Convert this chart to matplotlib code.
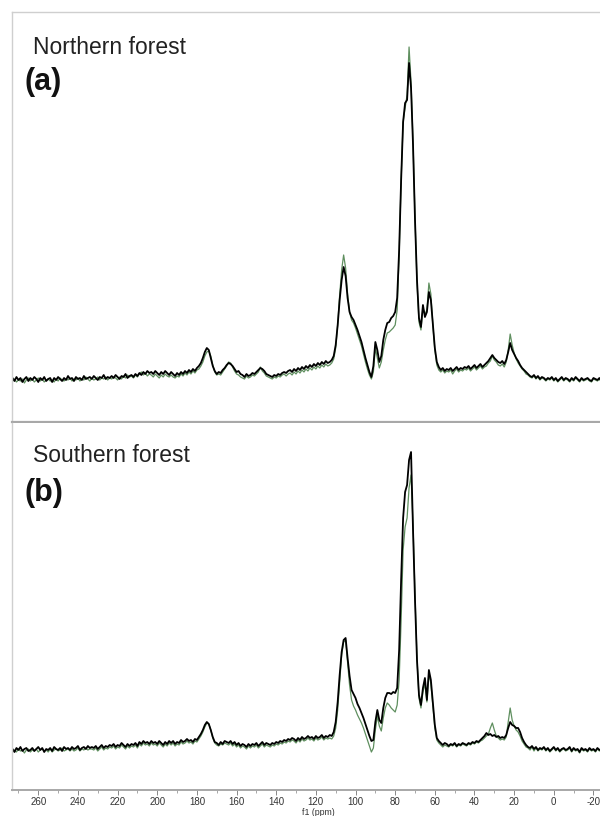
import numpy as np
import matplotlib
matplotlib.use("Agg")
import matplotlib.pyplot as plt
from matplotlib.ticker import MultipleLocator

# chemical shift grid (ppm), 273 -> -24 in 1 ppm steps
ppm = np.arange(273, -25, -1)

# ---- (a) Northern forest: intensity (arbitrary units) ----
north_black = [
    2, -1, 3, 0, 2, -2, 1, 3, -1, 2,
    0, 3, 1, -2, 2, 0, 3, -1, 1, 2,
    -2, 2, 0, 3, 1, -1, 2, 0, 4, 1,
    2, -1, 3, 1, 2, 0, 4, 1, 2, 3,
    1, 4, 2, 0, 3, 2, 5, 1, 3, 2,
    4, 2, 5, 3, 1, 4, 3, 6, 2, 4,
    5, 3, 6, 4, 7, 5, 8, 6, 9, 7,
    8, 6, 9, 7, 5, 8, 6, 9, 7, 5,
    8, 6, 4, 7, 5, 8, 6, 9, 7, 10,
    8, 11, 9, 12, 14, 17, 22, 28, 32, 30,
    22, 14, 9, 6, 8, 7, 10, 12, 15, 17,
    16, 14, 11, 8, 9, 6, 5, 3, 6, 4,
    5, 7, 6, 8, 10, 12, 11, 9, 6, 5,
    4, 3, 5, 4, 6, 5, 7, 8, 7, 9,
    10, 8, 11, 9, 12, 10, 13, 11, 14, 12,
    15, 13, 16, 14, 17, 15, 18, 16, 19, 17,
    18, 20, 24, 35, 55, 80, 100, 113, 104, 82,
    68, 63, 60, 55, 50, 44, 38, 30, 22, 15,
    8, 3, 14, 38, 30, 18, 24, 40, 50, 57,
    58, 62, 64, 68, 82, 130, 200, 258, 277, 280,
    317, 292, 235, 160, 100, 62, 53, 75, 63, 68,
    88, 80, 56, 32, 18, 13, 10, 12, 9, 11,
    10, 12, 9, 11, 13, 10, 12, 11, 13, 12,
    14, 11, 13, 15, 12, 14, 16, 13, 15, 17,
    19, 22, 25, 22, 20, 18, 17, 19, 16, 20,
    28, 37, 30, 26, 22, 19, 15, 12, 10, 8,
    6, 4, 3, 5, 2, 4, 1, 3, 2, 0,
    2, 1, 3, 0, 2, -1, 1, 3, 0, 2,
    1, -1, 2, 0, 3, 1, -1, 2, 0, 1,
    2, 0, -1, 2, 1, 0, 2, -1,
]
north_green = [
    -1, 1, -2, 0, -1, 1, -3, 0, 2, -1,
    1, -2, 0, 2, -1, 1, -2, 0, 1, -1,
    0, -2, 1, -1, 2, 0, -1, 1, 0, 2,
    -1, 1, 0, 2, -1, 1, 0, 3, 1, -1,
    2, 0, 1, 3, 0, 2, 1, 3, 0, 2,
    1, 3, 2, 0, 3, 1, 4, 2, 5, 3,
    4, 2, 5, 3, 6, 8, 5, 7, 4, 6,
    5, 3, 6, 4, 2, 5, 3, 6, 4, 3,
    5, 3, 2, 4, 3, 6, 4, 7, 5, 8,
    6, 9, 7, 10, 11, 14, 18, 24, 28, 29,
    24, 15, 8, 5, 6, 5, 8, 11, 14, 18,
    17, 13, 9, 6, 5, 3, 2, 1, 4, 2,
    3, 5, 4, 6, 8, 13, 9, 7, 4, 3,
    2, 1, 3, 2, 4, 3, 5, 6, 4, 6,
    7, 5, 8, 6, 9, 7, 10, 8, 11, 9,
    12, 10, 13, 11, 14, 12, 15, 13, 16, 14,
    15, 17, 21, 32, 55, 85, 110, 125, 112, 86,
    68, 60, 57, 52, 46, 40, 34, 26, 18, 11,
    5, 1, 8, 32, 22, 12, 18, 30, 40, 47,
    48, 50, 52, 55, 70, 125, 200, 258, 272, 285,
    333, 298, 238, 162, 98, 58, 50, 72, 66, 70,
    97, 86, 55, 30, 15, 10, 8, 10, 7, 9,
    8, 10, 6, 9, 11, 8, 10, 9, 11, 10,
    12, 9, 11, 13, 10, 12, 14, 11, 13, 14,
    17, 19, 24, 20, 18, 15, 14, 16, 13, 18,
    30, 46, 35, 27, 21, 17, 14, 11, 9, 6,
    5, 3, 2, 4, 1, 3, 0, 2, 1, -1,
    1, 0, 2, -1, 1, -2, 0, 2, -1, 1,
    0, -2, 1, -1, 2, 0, -2, 1, -1, 0,
    1, -1, -2, 1, 0, -1, 1, -2,
]

# ---- (b) Southern forest ----
south_black = [
    1, -2, 2, 0, 3, -1, 1, 2, -1, 0,
    2, -1, 1, 3, 0, 2, -2, 1, 0, 2,
    -1, 3, 1, 0, 2, -1, 3, 1, 2, 0,
    3, 1, 2, 4, 0, 2, 3, 1, 4, 2,
    3, 2, 4, 1, 3, 5, 2, 4, 3, 5,
    4, 6, 3, 5, 4, 7, 5, 3, 6, 4,
    6, 5, 7, 4, 8, 6, 9, 7, 8, 6,
    9, 7, 8, 6, 9, 7, 5, 8, 6, 9,
    7, 9, 6, 8, 7, 10, 8, 9, 11, 9,
    10, 8, 11, 10, 13, 16, 20, 25, 28, 26,
    20, 13, 8, 7, 5, 8, 6, 9, 8, 7,
    9, 6, 8, 5, 7, 4, 6, 5, 3, 6,
    4, 6, 5, 7, 4, 6, 8, 5, 7, 6,
    5, 7, 6, 8, 7, 9, 8, 10, 9, 11,
    10, 12, 11, 9, 12, 10, 13, 11, 12, 14,
    12, 13, 11, 14, 12, 13, 15, 12, 14, 13,
    15, 14, 18, 28, 48, 75, 98, 110, 112, 92,
    74, 60, 56, 52, 46, 42, 37, 32, 26, 20,
    14, 9, 10, 28, 40, 30, 27, 42, 52, 57,
    57, 56, 58, 57, 62, 100, 170, 232, 258, 265,
    290, 298, 220, 150, 90, 55, 45, 62, 72, 50,
    80, 70, 48, 25, 12, 9, 7, 5, 7, 6,
    4, 6, 5, 7, 4, 6, 5, 7, 6, 5,
    7, 6, 8, 7, 9, 8, 10, 12, 14, 17,
    15, 16, 14, 15, 13, 14, 12, 13, 12, 15,
    22, 28, 25, 24, 22, 22, 18, 12, 8, 5,
    3, 2, 4, 1, 3, 0, 2, 1, 3, 0,
    2, -1, 1, 3, 0, 2, -1, 1, 2, 0,
    1, 3, -1, 2, 0, 1, -2, 2, 0, 1,
    -1, 2, 0, 1, -1, 2, 0, 1,
]
south_green = [
    -1, 0, -2, 1, -1, 0, -3, 0, 1, -2,
    0, -1, 1, -2, 0, 1, -1, 0, -2, 1,
    -2, 0, 1, -1, 0, 2, -1, 0, 1, -1,
    1, -1, 0, 2, -1, 1, 0, 2, 0, 1,
    1, 0, 2, -1, 1, 3, 0, 2, 1, 3,
    2, 4, 1, 3, 2, 5, 3, 1, 4, 2,
    4, 3, 5, 2, 6, 4, 7, 5, 6, 4,
    7, 5, 6, 4, 7, 5, 3, 6, 4, 7,
    5, 7, 4, 6, 5, 8, 6, 7, 9, 7,
    8, 6, 9, 8, 11, 14, 18, 23, 27, 26,
    20, 12, 7, 5, 4, 6, 5, 7, 6, 5,
    7, 4, 6, 3, 5, 2, 4, 3, 1, 4,
    2, 4, 3, 5, 2, 4, 6, 3, 5, 4,
    3, 5, 4, 6, 5, 7, 6, 8, 7, 9,
    8, 10, 9, 7, 10, 8, 11, 9, 10, 12,
    10, 11, 9, 12, 10, 11, 13, 10, 12, 11,
    12, 11, 14, 22, 40, 68, 95, 108, 110, 88,
    65, 50, 44, 40, 35, 31, 27, 22, 16, 10,
    4, -2, 2, 20, 34, 24, 19, 32, 42, 47,
    45, 42, 40, 38, 45, 70, 130, 200, 223, 232,
    262, 275, 225, 155, 92, 52, 42, 58, 66, 48,
    76, 66, 44, 22, 10, 7, 5, 3, 5, 4,
    3, 5, 4, 6, 3, 5, 4, 6, 5, 4,
    6, 5, 7, 6, 8, 7, 9, 10, 12, 14,
    16, 22, 27, 20, 14, 12, 10, 11, 10, 13,
    28, 42, 30, 24, 20, 18, 14, 9, 6, 3,
    2, 0, 3, -1, 2, -1, 1, 0, 2, -1,
    1, -2, 0, 2, -1, 1, -2, 0, 1, -1,
    0, 2, -2, 1, -1, 0, -3, 1, -1, 0,
    -2, 1, -1, 0, -2, 1, -1, 0,
]

panel_titles = ["Northern forest", "Southern forest"]
panel_letters = ["(a)", "(b)"]
major_ticks = [260, 240, 220, 200, 180, 160, 140, 120, 100, 80, 60, 40, 20, 0, -20]
x_label = "f1 (ppm)"

plt.rcParams['font.family'] = ['Liberation Sans', 'DejaVu Sans']

W, H = 600, 816
fig = plt.figure(figsize=(W / 100, H / 100), dpi=100)

left = 12.3 / W
width = 1.0 - left + 0.001
ax1 = fig.add_axes([left, (H - 421.7) / H, width, (421.7 - 12.3) / H])
ax2 = fig.add_axes([left, (H - 790) / H, width, (790 - 422.5) / H])

xlim = (273.1, -23.6)
green = "#5f8f5f"
border = "#cfcfcf"

ax1.plot(ppm, north_green, color=green, lw=0.9)
ax1.plot(ppm, north_black, color="black", lw=1.3)
ax1.set_ylim(-41.7, 367.7)

ax2.plot(ppm, south_green, color=green, lw=0.9)
ax2.plot(ppm, south_black, color="black", lw=1.3)
ax2.set_ylim(-40, 327.5)

for ax in [ax1, ax2]:
    ax.set_xlim(*xlim)
    ax.set_yticks([])
    for s in ["left", "top", "bottom"]:
        ax.spines[s].set_color(border)
        ax.spines[s].set_linewidth(1.0)
    ax.spines["right"].set_visible(False)
    ax.set_facecolor("white")

ax1.spines["bottom"].set_color("#a8a8a8")
ax1.spines["bottom"].set_linewidth(1.6)
ax2.spines["top"].set_visible(False)
ax1.set_xticks([])

# panel labels
fig.text(33 / W, 1 - 47 / H, panel_titles[0], fontsize=16.5, color="#222222", va="center", ha="left")
fig.text(25 / W, 1 - 82 / H, panel_letters[0], fontsize=22, fontweight="bold", color="#111111", va="center", ha="left")
fig.text(33 / W, 1 - 456 / H, panel_titles[1], fontsize=16.5, color="#222222", va="center", ha="left")
fig.text(25 / W, 1 - 493 / H, panel_letters[1], fontsize=22, fontweight="bold", color="#111111", va="center", ha="left")

# bottom frequency axis
ax2.spines["bottom"].set_color("#a8a8a8")
ax2.spines["bottom"].set_linewidth(1.4)
ax2.set_xticks(major_ticks)
ax2.set_xticklabels([str(t) for t in major_ticks])
ax2.xaxis.set_minor_locator(MultipleLocator(10))
ax2.tick_params(axis="x", which="major", direction="out", length=3.5, width=0.7,
                color="#888888", labelsize=7, labelcolor="#333333", pad=1.5)
ax2.tick_params(axis="x", which="minor", direction="out", length=2.5, width=0.6, color="#999999")
ax2.set_xlabel(x_label, fontsize=6.3, color="#333333", labelpad=0)
ax2.xaxis.set_label_coords((318 - 12.3) / (W - 12.3), -0.048)

fig.savefig("out.png", dpi=100, facecolor="white")
